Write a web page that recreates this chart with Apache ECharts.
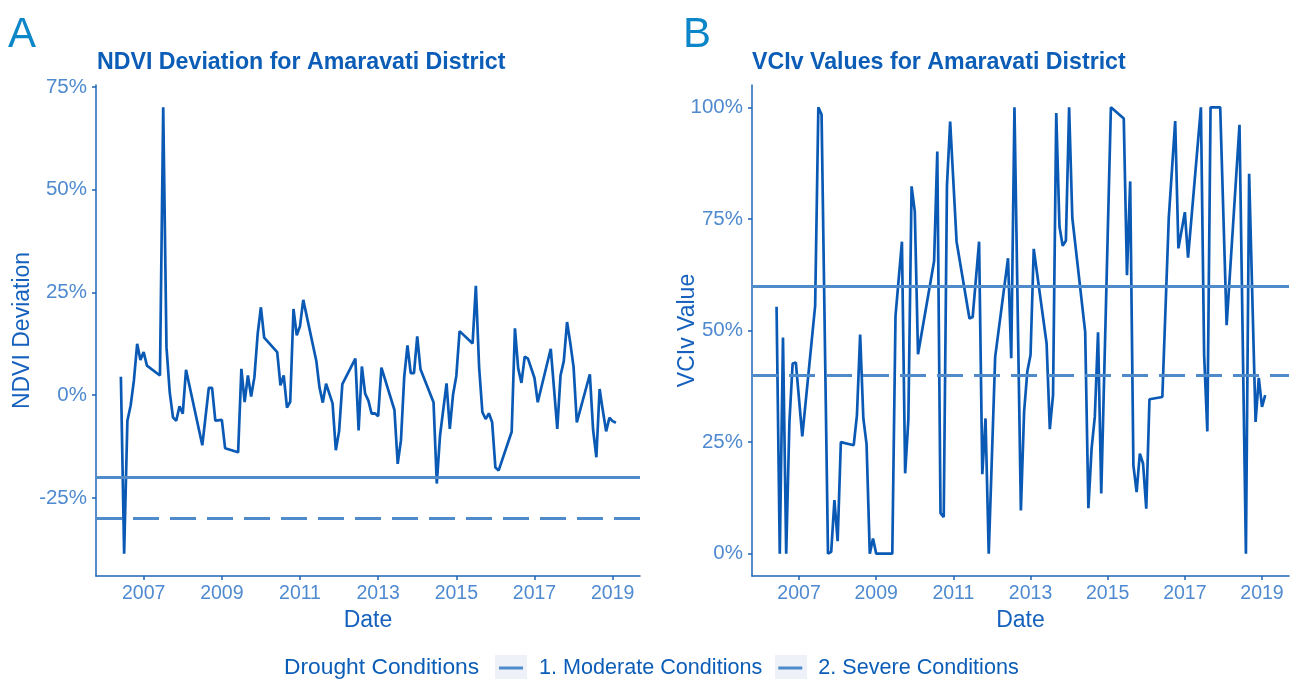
<!DOCTYPE html>
<html>
<head>
<meta charset="utf-8">
<script src="https://cdn.jsdelivr.net/npm/echarts@6/dist/echarts.min.js"></script>
<style>
html,body{margin:0;padding:0;background:#fff;}
#chart{width:1298px;height:679px;}
</style>
</head>
<body>
<div id="chart"></div>
<script>
// ---------- DATA ----------
const ndviDates = ['2006-06','2006-07','2006-08','2006-09','2006-10','2006-11','2006-12','2007-01','2007-02',
  '2007-06','2007-07','2007-08','2007-09','2007-10','2007-11','2007-12','2008-01','2008-02',
  '2008-07','2008-09','2008-10','2008-11','2009-01','2009-02',
  '2009-06','2009-07','2009-08','2009-09','2009-10','2009-11','2009-12','2010-01','2010-02',
  '2010-06','2010-07','2010-08','2010-09','2010-10','2010-11','2010-12','2011-01','2011-02',
  '2011-06','2011-07','2011-08','2011-09','2011-11','2011-12','2012-01','2012-02',
  '2012-06','2012-07','2012-08','2012-09','2012-10','2012-11','2012-12','2013-01','2013-02',
  '2013-06','2013-07','2013-08','2013-09','2013-10','2013-11','2013-12','2014-01','2014-02',
  '2014-06','2014-07','2014-08','2014-10','2014-11','2014-12','2015-01','2015-02',
  '2015-06','2015-07','2015-08','2015-09','2015-10','2015-11','2015-12','2016-01','2016-02',
  '2016-06','2016-07','2016-08','2016-09','2016-10','2016-11','2017-01','2017-02',
  '2017-06','2017-07','2017-08','2017-09','2017-10','2017-11','2017-12','2018-01','2018-02',
  '2018-06','2018-07','2018-08','2018-09','2018-10','2018-11','2018-12','2019-01','2019-02'];
const ndviValues = [4.5,-38.6,-6.2,-2.5,3.6,12.5,8.6,10.5,7.2,
  4.8,70.1,11.7,0.7,-5.4,-6.2,-2.7,-4.5,6.2,
  -12.2,1.8,1.8,-6.2,-6.0,-12.9,
  -13.9,6.4,-1.7,4.8,-0.3,4.4,14.9,21.4,14.0,
  10.5,2.4,4.8,-3.0,-1.6,21.0,14.6,16.8,23.2,
  8.4,1.8,-1.8,2.8,-2.0,-13.4,-8.8,2.7,
  8.9,-8.6,7.0,0.4,-1.3,-4.5,-4.4,-5.1,6.7,
  -3.6,-16.7,-11.0,4.4,12.1,5.4,5.4,14.3,6.3,
  -1.7,-21.5,-9.8,2.9,-8.2,0.2,4.7,15.6,
  12.6,26.6,6.8,-4.1,-5.8,-4.4,-6.6,-17.6,-18.3,
  -8.9,16.3,6.5,3.0,9.4,8.9,4.2,-1.7,
  11.3,1.6,-8.2,4.8,8.3,17.8,12.7,6.9,-6.6,
  5.1,-8.4,-15.1,1.5,-3.8,-8.8,-5.5,-6.3,-6.7];

const vciDates = ['2006-06','2006-07','2006-08','2006-09','2006-10','2006-11','2006-12','2007-02',
  '2007-06','2007-07','2007-08','2007-10','2007-11','2007-12','2008-01','2008-02',
  '2008-06','2008-07','2008-08','2008-09','2008-10','2008-11','2008-12','2009-01','2009-02',
  '2009-06','2009-07','2009-09','2009-10','2009-11','2009-12','2010-01','2010-02',
  '2010-07','2010-08','2010-09','2010-10','2010-11','2010-12','2011-02',
  '2011-06','2011-07','2011-09','2011-10','2011-11','2011-12','2012-02',
  '2012-06','2012-07','2012-08','2012-10','2012-11','2012-12','2013-01','2013-02',
  '2013-06','2013-07','2013-08','2013-09','2013-10','2013-11','2013-12','2014-01','2014-02',
  '2014-06','2014-07','2014-08','2014-09','2014-10','2014-11','2015-02',
  '2015-06','2015-07','2015-08','2015-09','2015-10','2015-11','2015-12','2016-01','2016-02',
  '2016-06','2016-08','2016-10','2016-11','2017-01','2017-02',
  '2017-06','2017-07','2017-08','2017-09','2017-10','2017-11','2017-12','2018-02',
  '2018-06','2018-08','2018-09','2018-11','2018-12','2019-01','2019-02'];
const vciValues = [55.3,0,48.4,0,29.5,42.6,42.8,26.3,
  55.5,100,98.4,0,0.4,12.0,2.8,25.0,
  24.3,31.0,49.1,30.3,24.5,0,3.4,0,0,
  0,53.3,69.9,18.0,30.1,82.3,76.7,44.7,
  65.5,90.1,9.1,8.2,82.4,96.8,69.9,
  52.7,53.0,69.9,17.8,30.3,0,44.1,
  66.2,43.8,100,9.7,31.8,40.8,44.5,68.3,
  47.1,27.9,35.5,98.7,73.3,69.0,70.1,100,75.2,
  49.7,10.2,23.6,30.7,49.6,13.5,100,
  97.5,62.4,83.4,19.8,13.8,22.4,20.2,10.1,34.6,
  35.1,75.2,96.9,68.4,76.5,66.3,
  100,44.5,27.4,100,100,100,100,51.2,
  96.1,0,85.1,29.5,39.4,32.9,35.5];

const yearTicks = [2007, 2009, 2011, 2013, 2015, 2017, 2019];
const ndviTicks = [-25, 0, 25, 50, 75];
const vciTicks = [0, 25, 50, 75, 100];
const ndviThresholds = [-20, -30];   // moderate, severe
const vciThresholds = [60, 40];      // moderate, severe
const conditionNames = ['1. Moderate Conditions', '2. Severe Conditions'];

// ---------- HELPERS ----------
function toYear(s) { const p = s.split('-'); return +p[0] + (+p[1] - 1) / 12; }
function pairs(dates, vals) { return dates.map((d, i) => [toYear(d), vals[i]]); }

const FONT = 'Liberation Sans, Arial, sans-serif';
const LETTER_FONT = 'Liberation Sans, Arial, sans-serif';
const LINE_C = '#0a5ab5';
const THR_C = '#4f8bcb';
const AXIS_C = '#1e63b6';
const TICKLAB_C = '#4f8ad0';
const TITLE_C = '#0b5db7';
const NAME_C = '#1561bd';

function xAx(gi) {
  return {
    type: 'value', gridIndex: gi, min: 2005.78, max: 2019.70,
    name: 'Date', nameLocation: 'middle', nameGap: 33, nameMoveOverlap: false,
    nameTextStyle: { fontFamily: FONT, fontSize: 23, color: NAME_C },
    axisLine: { show: true, onZero: false, lineStyle: { color: AXIS_C, width: 1.5 } },
    axisTick: { show: true, length: 4, customValues: yearTicks, lineStyle: { color: AXIS_C, width: 1.5 } },
    axisLabel: { customValues: yearTicks, formatter: v => String(Math.round(v)), fontFamily: FONT, fontSize: 19.5, color: TICKLAB_C, margin: 8 },
    splitLine: { show: false }
  };
}
function yAx(gi, min, max, ticks, name, gap) {
  return {
    type: 'value', gridIndex: gi, min: min, max: max,
    name: name, nameLocation: 'middle', nameGap: gap, nameRotate: 90, nameMoveOverlap: false,
    nameTextStyle: { fontFamily: FONT, fontSize: 23, color: NAME_C },
    axisLine: { show: true, onZero: false, lineStyle: { color: AXIS_C, width: 1.5 } },
    axisTick: { show: true, length: 4, customValues: ticks, lineStyle: { color: AXIS_C, width: 1.5 } },
    axisLabel: { customValues: ticks, formatter: v => Math.round(v) + '%', fontFamily: FONT, fontSize: 20.5, color: TICKLAB_C, margin: 9 },
    splitLine: { show: false }
  };
}
function thrSeries(gi, name, value, dashed) {
  return {
    name: name, type: 'line', xAxisIndex: gi, yAxisIndex: gi, data: [],
    itemStyle: { color: THR_C }, lineStyle: { color: THR_C, width: 3 },
    z: 1,
    markLine: {
      silent: true, symbol: 'none', animation: false, label: { show: false },
      lineStyle: { color: THR_C, width: 3, type: dashed ? [26, 11] : 'solid' },
      data: [{ yAxis: value }]
    }
  };
}

const chart = echarts.init(document.getElementById('chart'), null, { renderer: 'canvas' });
chart.setOption({
  animation: false,
  backgroundColor: '#ffffff',
  title: [
    { text: 'A', left: 8, top: 14, padding: 0, textStyle: { fontFamily: LETTER_FONT, fontSize: 42, fontWeight: 'normal', color: '#0b86c8' } },
    { text: 'B', left: 683, top: 14, padding: 0, textStyle: { fontFamily: LETTER_FONT, fontSize: 42, fontWeight: 'normal', color: '#0b86c8' } },
    { text: 'NDVI Deviation for Amaravati District', left: 97, top: 51, padding: 0, textStyle: { fontFamily: FONT, fontSize: 23.2, fontWeight: 'bold', color: TITLE_C } },
    { text: 'VCIv Values for Amaravati District', left: 752, top: 51, padding: 0, textStyle: { fontFamily: FONT, fontSize: 23.2, fontWeight: 'bold', color: TITLE_C } },
    { text: 'Drought Conditions', left: 284, top: 656, padding: 0, textStyle: { fontFamily: FONT, fontSize: 22.8, fontWeight: 'normal', color: TITLE_C } }
  ],
  legend: {
    data: conditionNames, left: 499, top: 657, padding: 0,
    icon: 'rect', itemWidth: 24, itemHeight: 3, itemGap: 16,
    textStyle: { fontFamily: FONT, fontSize: 21.6, color: TITLE_C, padding: [0, 0, 0, 11] },
    selectedMode: false
  },
  graphic: [
    { type: 'rect', shape: { x: 495, y: 655, width: 32, height: 24 }, style: { fill: '#eef2f8' }, z: -1 },
    { type: 'rect', shape: { x: 775, y: 655, width: 32, height: 24 }, style: { fill: '#eef2f8' }, z: -1 }
  ],
  grid: [
    { left: 96, right: 658, top: 85, bottom: 103 },
    { left: 752, right: 9, top: 85, bottom: 103 }
  ],
  xAxis: [xAx(0), xAx(1)],
  yAxis: [
    yAx(0, -44.0, 75.5, ndviTicks, 'NDVI Deviation', 62),
    yAx(1, -5, 105, vciTicks, 'VCIv Value', 53)
  ],
  series: [
    thrSeries(0, conditionNames[0], ndviThresholds[0], false),
    thrSeries(0, conditionNames[1], ndviThresholds[1], true),
    thrSeries(1, conditionNames[0], vciThresholds[0], false),
    thrSeries(1, conditionNames[1], vciThresholds[1], true),
    { name: 'NDVI Deviation', type: 'line', xAxisIndex: 0, yAxisIndex: 0, data: pairs(ndviDates, ndviValues),
      showSymbol: false, lineStyle: { color: LINE_C, width: 2.7 }, itemStyle: { color: LINE_C }, z: 3 },
    { name: 'VCIv Value', type: 'line', xAxisIndex: 1, yAxisIndex: 1, data: pairs(vciDates, vciValues),
      showSymbol: false, lineStyle: { color: LINE_C, width: 2.7 }, itemStyle: { color: LINE_C }, z: 3 }
  ]
});
</script>
</body>
</html>
